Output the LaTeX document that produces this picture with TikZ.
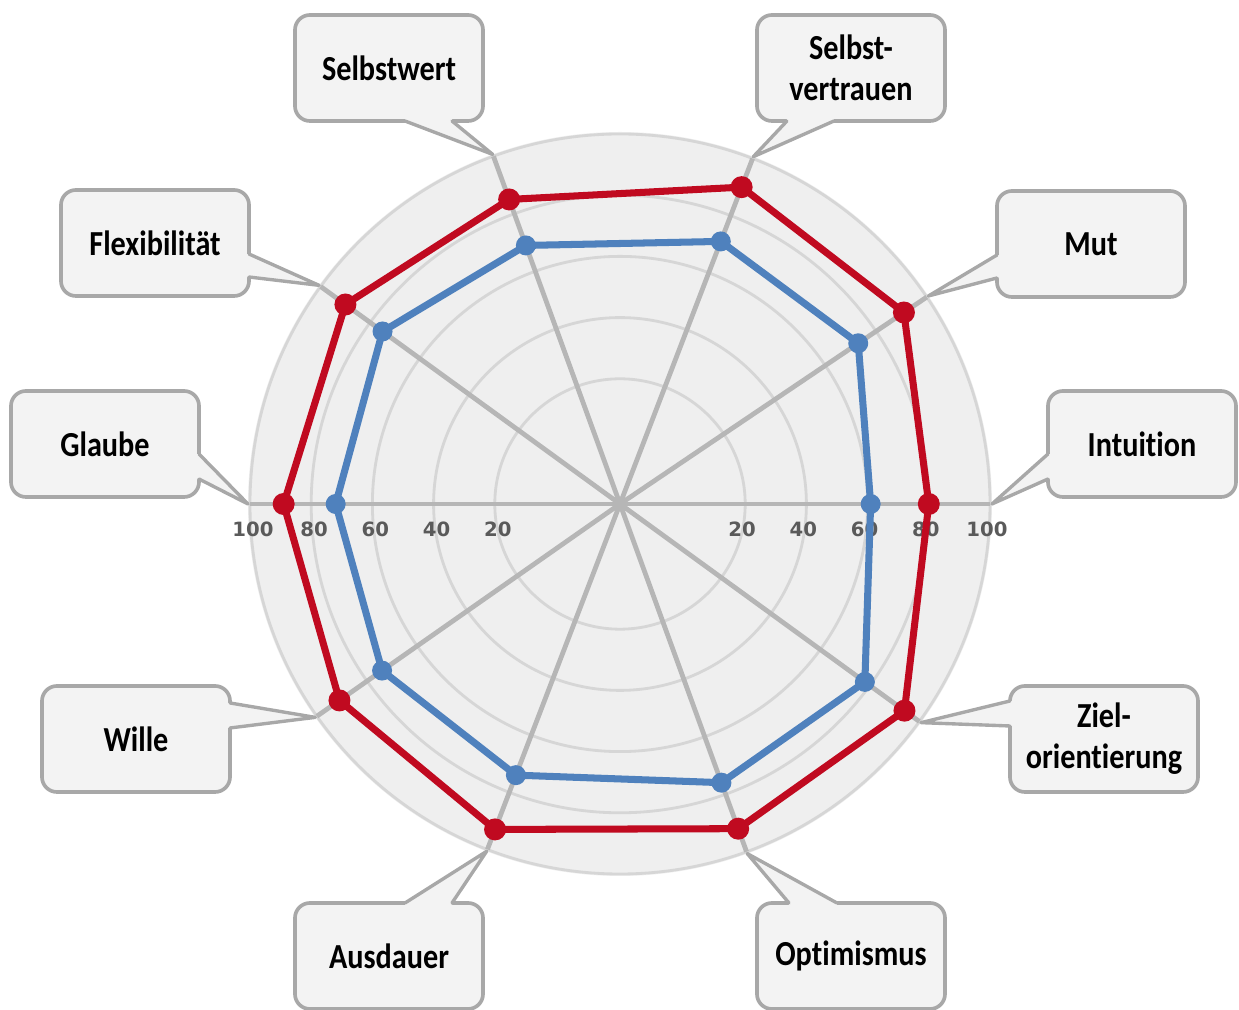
\documentclass[tikz,border=0pt]{standalone}
\usepackage{fontspec}
\usetikzlibrary{calc}

\newfontfamily\kastenschrift{Carlito}[FakeStretch=0.86, Ligatures=NoCommon]
\newfontfamily\skalenschrift{DejaVu Sans}

\definecolor{rot}{RGB}{192,10,32}
\definecolor{blau}{RGB}{79,129,189}
\definecolor{speichengrau}{RGB}{182,182,182}
\definecolor{ringgrau}{RGB}{214,214,214}
\definecolor{scheibengrau}{RGB}{239,239,239}
\definecolor{kastenfuell}{RGB}{243,243,243}
\definecolor{kastenrand}{RGB}{168,168,168}
\definecolor{skalengrau}{RGB}{90,90,90}

% Zeiger eines Kastens: Kasten, Anker, Fusspunkt 1, Fusspunkt 2, nach innen, Spitze
\newcommand{\zeiger}[6]{%
  \fill[kastenfuell] ($(#1.#2)+#3+#5$) -- ($(#1.#2)+#3$) -- (#6) -- ($(#1.#2)+#4$) -- ($(#1.#2)+#4+#5$) -- cycle;
  \draw[zeigerlinie] ($(#1.#2)+#3$) -- (#6) -- ($(#1.#2)+#4$);
}

\begin{document}
\begin{tikzpicture}[x=0.025cm, y=0.025cm,
  kasten/.style={draw=kastenrand, fill=kastenfuell, line width=2.6pt, rounded corners=0.375cm,
    minimum width=4.7cm, minimum height=2.65cm, outer sep=0pt, align=center,
    font=\kastenschrift\bfseries\fontsize{25}{29}\selectfont},
  zeigerlinie/.style={draw=kastenrand, line width=2.4pt, line join=round, line cap=round},
  speiche/.style={draw=speichengrau, line width=3.4pt},
  ring/.style={draw=ringgrau, line width=2pt},
  linie/.style={draw=#1, line width=5pt, line join=round},
  skala/.style={font=\skalenschrift\bfseries\fontsize{14}{16}\selectfont, text=skalengrau, inner sep=0pt}]

  \useasboundingbox (-620,-506) rectangle (619,504);
  \coordinate (mitte) at (0,0);

  % Scheibe und Ringe
  \fill[scheibengrau] (mitte) circle (372);
  \foreach \v in {20,40,60,80,100} {
    \draw[ring] (mitte) circle ({64+3.06*\v});
  }

  % Achsen und Werte (Winkel/rot/blau)
  \foreach \w/\vr/\vb [count=\i] in {0/80/61,34/91/73,69/90/71,110/85/69,144/90/75,
                                     180/89/72,215/91/74,249/93/74,290/92/76,324/94/78} {
    \draw[speiche] (mitte) -- (\w:370);
    \coordinate (spitze\i) at (\w:372);
    \coordinate (r\i) at (\w:{64+3.06*\vr});
    \coordinate (b\i) at (\w:{64+3.06*\vb});
  }

  % Skala
  \foreach \v in {20,40,60,80,100} {
    \node[skala] (skala-l\v) at ({-(61+3.06*\v)},-25) {\v};
    \node[skala] (skala-r\v) at ({61+3.06*\v},-25) {\v};
  }

  % Linien und Punkte
  \draw[linie=blau] (b1) \foreach \i in {2,...,10} {-- (b\i)} -- cycle;
  \draw[linie=rot] (r1) \foreach \i in {2,...,10} {-- (r\i)} -- cycle;
  \foreach \i in {1,...,10} {
    \fill[blau] (b\i) circle (10);
    \fill[rot] (r\i) circle (11);
  }

  % Kaesten
  \node[kasten] (intuition) at (522,60) {Intuition};
  \node[kasten] (mut) at (471,260) {Mut};
  \node[kasten] (vertrauen) at (231,436) {Selbst-\\vertrauen};
  \node[kasten] (selbstwert) at (-231,436) {Selbstwert};
  \node[kasten] (flex) at (-465,261) {Flexibilität};
  \node[kasten] (glaube) at (-515,60) {Glaube};
  \node[kasten] (wille) at (-484,-235) {Wille};
  \node[kasten] (ausdauer) at (-231,-452) {Ausdauer};
  \node[kasten] (optimismus) at (231,-452) {Optimismus};
  \node[kasten] (ziel) at (484,-235) {Ziel-\\orientierung};

  \zeiger{intuition}{south west}{(0,18)}{(0,43)}{(5,0)}{spitze1}
  \zeiger{mut}{south west}{(0,19)}{(0,42)}{(5,0)}{spitze2}
  \zeiger{vertrauen}{south west}{(30,0)}{(77,0)}{(0,5)}{spitze3}
  \zeiger{selbstwert}{south east}{(-78,0)}{(-31,0)}{(0,5)}{spitze4}
  \zeiger{flex}{south east}{(0,19)}{(0,42)}{(-5,0)}{spitze5}
  \zeiger{glaube}{south east}{(0,18)}{(0,43)}{(-5,0)}{spitze6}
  \zeiger{wille}{north east}{(0,-17)}{(0,-42)}{(-5,0)}{spitze7}
  \zeiger{ausdauer}{north east}{(-78,0)}{(-31,0)}{(0,-5)}{spitze8}
  \zeiger{optimismus}{north west}{(32,0)}{(80,0)}{(0,-5)}{spitze9}
  \zeiger{ziel}{north west}{(0,-15)}{(0,-40)}{(5,0)}{spitze10}
\end{tikzpicture}
\end{document}
